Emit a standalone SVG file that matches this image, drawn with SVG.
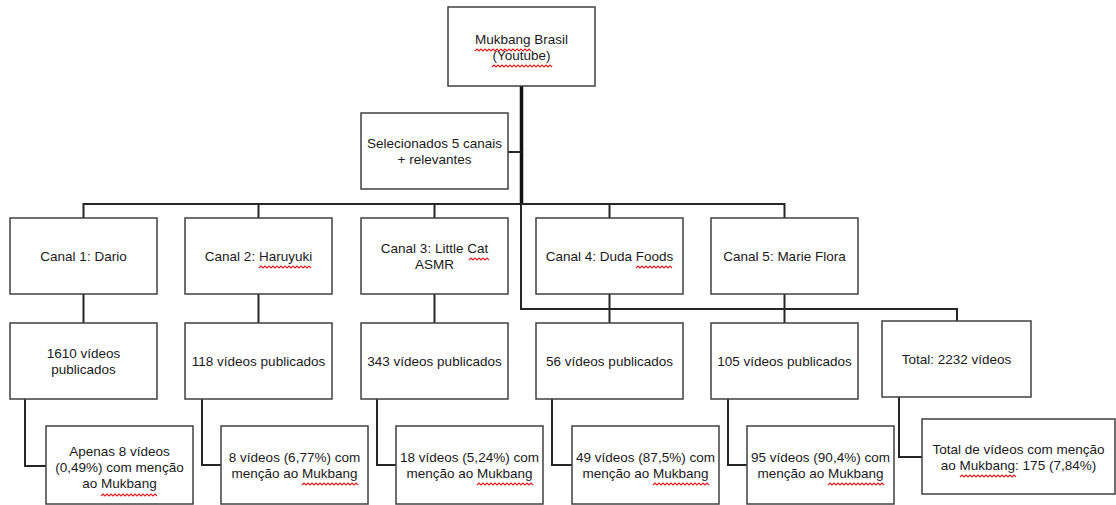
<svg xmlns="http://www.w3.org/2000/svg" xmlns:xlink="http://www.w3.org/1999/xlink" width="1116" height="505" viewBox="0 0 1116 505">
<style>
.box{fill:#fff;stroke:#404040;stroke-width:1.5}
.t{font-family:"Liberation Sans",Arial,sans-serif;font-size:13.5px;fill:#1a1a1a;text-anchor:middle}
.c{fill:none;stroke:#262626;stroke-width:2}
.trunk{fill:none;stroke:#111;stroke-width:3.5}
.sq{fill:none;stroke:#e02020;stroke-width:1.2}
</style>
<defs>
<path id="sqM" class="sq" d="M0,1 l2,-2 2,2 2,-2 2,2 2,-2 2,2 2,-2 2,2 2,-2 2,2 2,-2 2,2 2,-2 2,2 2,-2 2,2 2,-2 2,2 2,-2 2,2 2,-2 2,2 2,-2 2,2 2,-2 2,2 2,-2 2,2"/>
</defs>
<rect width="1116" height="505" fill="#fff"/>
<g id="connectors">
<line class="trunk" x1="521.5" y1="86" x2="521.5" y2="204"/>
<polyline class="c" points="508,152 521,152"/>
<polyline class="c" points="83.5,218 83.5,204 784.5,204 784.5,218"/>
<line class="c" x1="258.5" y1="204" x2="258.5" y2="218"/>
<line class="c" x1="434.5" y1="204" x2="434.5" y2="218"/>
<line class="c" x1="609.5" y1="204" x2="609.5" y2="218"/>
<polyline class="c" points="521,204 521,309 957,309 957,321"/>
<line class="c" x1="83.5" y1="294" x2="83.5" y2="323"/>
<line class="c" x1="258.5" y1="294" x2="258.5" y2="323"/>
<line class="c" x1="434.5" y1="294" x2="434.5" y2="323"/>
<line class="c" x1="609.5" y1="294" x2="609.5" y2="323"/>
<line class="c" x1="784.5" y1="294" x2="784.5" y2="323"/>
<polyline class="c" points="25,399 25,466 46,466"/>
<polyline class="c" points="202,399 202,465 221,465"/>
<polyline class="c" points="377,399 377,465 396,465"/>
<polyline class="c" points="552,399 552,465 572,465"/>
<polyline class="c" points="728,399 728,465 747,465"/>
<polyline class="c" points="899,397 899,457 922,457"/>
</g>
<g id="root">
<rect class="box" x="448" y="7" width="147" height="79"/>
<text class="t" x="521.5" y="44">Mukbang Brasil</text>
<text class="t" x="521.5" y="60">(Youtube)</text>
<use xlink:href="#sqM" x="475" y="50"/>
<path class="sq" d="M492,67 l2,-2 2,2 2,-2 2,2 2,-2 2,2 2,-2 2,2 2,-2 2,2 2,-2 2,2 2,-2 2,2 2,-2 2,2 2,-2 2,2 2,-2 2,2 2,-2 2,2 2,-2 2,2 2,-2 2,2 2,-2 2,2 2,-2 2,2"/>
</g>
<g id="selecionados">
<rect class="box" x="361" y="113" width="147" height="76"/>
<text class="t" x="434.5" y="148">Selecionados 5 canais</text>
<text class="t" x="434.5" y="164">+ relevantes</text>
</g>
<g id="canal1">
<rect class="box" x="10" y="218" width="147" height="76"/>
<text class="t" x="83.5" y="261">Canal 1: Dario</text>
</g>
<g id="canal2">
<rect class="box" x="185" y="218" width="147" height="76"/>
<text class="t" x="258.5" y="261">Canal 2: Haruyuki</text>
<path class="sq" d="M259,268 l2,-2 2,2 2,-2 2,2 2,-2 2,2 2,-2 2,2 2,-2 2,2 2,-2 2,2 2,-2 2,2 2,-2 2,2 2,-2 2,2 2,-2 2,2 2,-2 2,2 2,-2 2,2 2,-2 2,2"/>
</g>
<g id="canal3">
<rect class="box" x="361" y="218" width="147" height="76"/>
<text class="t" x="434.5" y="253">Canal 3: Little Cat</text>
<text class="t" x="434.5" y="269">ASMR</text>
<path class="sq" d="M469,260 l2,-2 2,2 2,-2 2,2 2,-2 2,2 2,-2 2,2 2,-2 2,2"/>
</g>
<g id="canal4">
<rect class="box" x="536" y="218" width="147" height="76"/>
<text class="t" x="609.5" y="261">Canal 4: Duda Foods</text>
<path class="sq" d="M636,268 l2,-2 2,2 2,-2 2,2 2,-2 2,2 2,-2 2,2 2,-2 2,2 2,-2 2,2 2,-2 2,2 2,-2 2,2 2,-2 2,2"/>
</g>
<g id="canal5">
<rect class="box" x="711" y="218" width="147" height="76"/>
<text class="t" x="784.5" y="261">Canal 5: Marie Flora</text>
</g>
<g id="pub1">
<rect class="box" x="10" y="323" width="147" height="76"/>
<text class="t" x="83.5" y="358">1610 vídeos</text>
<text class="t" x="83.5" y="374">publicados</text>
</g>
<g id="pub2">
<rect class="box" x="185" y="323" width="147" height="76"/>
<text class="t" x="258.5" y="366">118 vídeos publicados</text>
</g>
<g id="pub3">
<rect class="box" x="361" y="323" width="147" height="76"/>
<text class="t" x="434.5" y="366">343 vídeos publicados</text>
</g>
<g id="pub4">
<rect class="box" x="536" y="323" width="147" height="76"/>
<text class="t" x="609.5" y="366">56 vídeos publicados</text>
</g>
<g id="pub5">
<rect class="box" x="711" y="323" width="147" height="76"/>
<text class="t" x="784.5" y="366">105 vídeos publicados</text>
</g>
<g id="total">
<rect class="box" x="882" y="321" width="149" height="76"/>
<text class="t" x="956.5" y="364">Total: 2232 vídeos</text>
</g>
<g id="men1">
<rect class="box" x="46" y="426" width="147" height="78"/>
<text class="t" x="119.5" y="456">Apenas 8 vídeos</text>
<text class="t" x="119.5" y="472">(0,49%) com menção</text>
<text class="t" x="119.5" y="488">ao Mukbang</text>
<use xlink:href="#sqM" x="101" y="495"/>
</g>
<g id="men2">
<rect class="box" x="221" y="426" width="147" height="78"/>
<text class="t" x="294.5" y="462">8 vídeos (6,77%) com</text>
<text class="t" x="294.5" y="478">menção ao Mukbang</text>
<use xlink:href="#sqM" x="302" y="484"/>
</g>
<g id="men3">
<rect class="box" x="396" y="426" width="147" height="78"/>
<text class="t" x="469.5" y="462">18 vídeos (5,24%) com</text>
<text class="t" x="469.5" y="478">menção ao Mukbang</text>
<use xlink:href="#sqM" x="477" y="484"/>
</g>
<g id="men4">
<rect class="box" x="572" y="426" width="147" height="78"/>
<text class="t" x="645.5" y="462">49 vídeos (87,5%) com</text>
<text class="t" x="645.5" y="478">menção ao Mukbang</text>
<use xlink:href="#sqM" x="653" y="484"/>
</g>
<g id="men5">
<rect class="box" x="747" y="426" width="147" height="78"/>
<text class="t" x="820.5" y="462">95 vídeos (90,4%) com</text>
<text class="t" x="820.5" y="478">menção ao Mukbang</text>
<use xlink:href="#sqM" x="828" y="484"/>
</g>
<g id="mentotal">
<rect class="box" x="922" y="419" width="193" height="75"/>
<text class="t" x="1018.5" y="454">Total de vídeos com menção</text>
<text class="t" x="1018.5" y="470">ao Mukbang: 175 (7,84%)</text>
<use xlink:href="#sqM" x="960" y="476"/>
</g>
</svg>
